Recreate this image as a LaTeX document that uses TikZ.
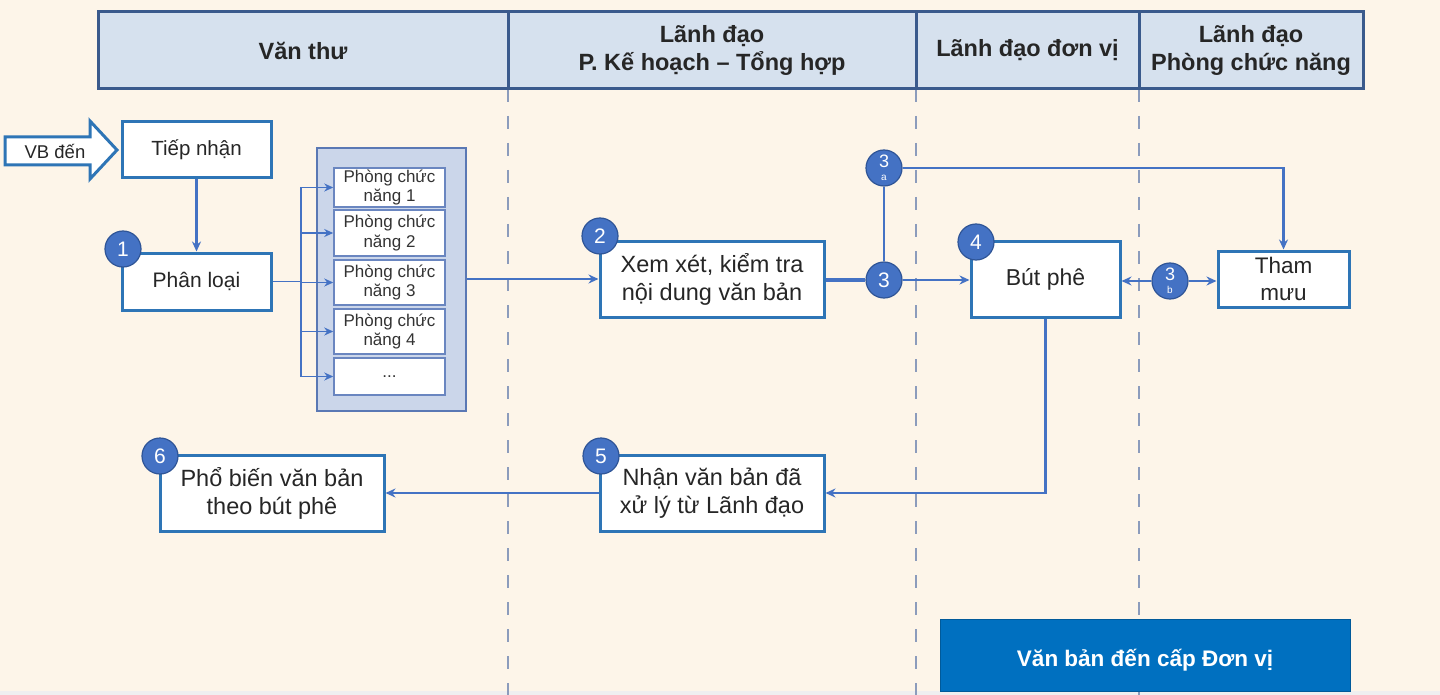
\documentclass[tikz,border=0pt]{standalone}
\usepackage{fontspec}
\setmainfont{Liberation Sans}
\usetikzlibrary{arrows.meta}
\definecolor{bgc}{HTML}{FDF5E9}
\definecolor{hdrfill}{HTML}{D6E1EE}
\definecolor{hdrline}{HTML}{3A5A8C}
\definecolor{boxline}{HTML}{2E75B6}
\definecolor{conn}{HTML}{4472C4}
\definecolor{badgec}{HTML}{4472C4}
\definecolor{badgeline}{HTML}{2F5597}
\definecolor{panelfill}{HTML}{CBD6EA}
\definecolor{panelline}{HTML}{5A78B4}
\definecolor{smallline}{HTML}{6A86C0}
\definecolor{dashc}{HTML}{8C9CBC}
\definecolor{footc}{HTML}{0070C0}
\definecolor{stripc}{HTML}{EFEFF0}
\tikzset{
  hdr/.style={draw=hdrline, line width=3pt, fill=hdrfill, inner sep=0pt, align=center,
    font=\fontsize{23.5}{28}\selectfont\bfseries, text=black!85},
  procbox/.style={draw=boxline, line width=3pt, fill=white, inner sep=0pt, align=center,
    font=\fontsize{23.5}{28}\selectfont, text=black!85},
  smallbox/.style={draw=smallline, line width=1.5pt, fill=white, inner sep=0pt, align=center,
    font=\fontsize{17}{19.5}\selectfont, text=black!80, minimum width=111pt},
  badge/.style={circle, fill=badgec, draw=badgeline, line width=1.2pt, minimum size=36pt, inner sep=0pt,
    text=white, font=\fontsize{21}{21}\selectfont, align=center},
  subbadge/.style={badge, font=\fontsize{18}{18}\selectfont},
  conline/.style={draw=conn, line width=2.4pt},
  conarrow/.style={conline, -{Stealth[length=10pt,width=9pt]}},
  lane/.style={draw=dashc, line width=1.5pt, dash pattern=on 13pt off 14pt},
}
\begin{document}
\begin{tikzpicture}[x=1pt,y=-1pt]
\useasboundingbox (0,0) rectangle (1440,695);
\fill[bgc] (0,0) rectangle (1440,695);
\fill[stripc] (0,691) rectangle (1440,695);

% lane dashed lines
\draw[lane] (508,89) -- (508,695);
\draw[lane] (916,89) -- (916,695);
\draw[lane] (1139,89) -- (1139,695);

% header
\node[hdr, minimum width=410pt, minimum height=77pt] (h1) at (303,50.5) {Văn thư};
\node[hdr, minimum width=408pt, minimum height=77pt] (h2) at (712,50.5) {Lãnh đạo\\P. Kế hoạch – Tổng hợp};
\node[hdr, minimum width=223pt, minimum height=77pt] (h3) at (1027.5,50.5) {Lãnh đạo đơn vị};
\node[hdr, minimum width=224pt, minimum height=77pt] (h4) at (1251,50.5) {Lãnh đạo\\Phòng chức năng};

% VB den arrow
\draw[boxline, line width=3pt, fill=white, line join=miter]
  (5,137) -- (90,137) -- (90,121) -- (117,150) -- (90,179) -- (90,165) -- (5,165) -- cycle;
\node[font=\fontsize{18.5}{20}\selectfont, text=black!85] (vb) at (55,151) {VB đến};

% Van thu boxes
\node[procbox, minimum width=149pt, minimum height=56pt, font=\fontsize{20.5}{24}\selectfont] (tiep) at (196.5,150) {Tiếp nhận};
\node[procbox, minimum width=149pt, minimum height=57pt, font=\fontsize{21}{24}\selectfont] (phan) at (196.5,281.5) {Phân loại};
\node[badge] (b1) at (123,249) {1};
\draw[conarrow] (tiep.south) -- (phan.north);

% panel of departments
\node[draw=panelline, line width=1.8pt, fill=panelfill, minimum width=149pt, minimum height=263pt, inner sep=0pt] (panel) at (391.5,279.5) {};
\node[smallbox, minimum height=39pt] (p1) at (389.5,187.5) {Phòng chức\\năng 1};
\node[smallbox, minimum height=46pt] (p2) at (389.5,233) {Phòng chức\\năng 2};
\node[smallbox, minimum height=45pt] (p3) at (389.5,282.5) {Phòng chức\\năng 3};
\node[smallbox, minimum height=45pt] (p4) at (389.5,331.5) {Phòng chức\\năng 4};
\node[smallbox, minimum height=37pt] (p5) at (389.5,376.5) {...};
\coordinate (br) at (301,281.5);
\draw[conn, line width=1.6pt] (phan.east) -- (br);
\draw[conn, line width=1.6pt] (301,187.5) -- (301,376.5);
\foreach \p in {p1,p2,p3,p4,p5}{
  \draw[conn, line width=1.6pt, -{Stealth[length=9pt,width=8pt]}] (301,0 |- \p.west) -- (\p.west);
}

% Xem xet
\node[procbox, minimum width=224pt, minimum height=76pt] (xem) at (712,279) {Xem xét, kiểm tra\\nội dung văn bản};
\node[badge] (b2) at (600,236) {2};
\draw[conarrow] (panel.east |- xem.west) -- (xem.west);

% badges 3
\node[badge] (b3) at (884,280) {3};
\node[subbadge] (b3a) at (884,168) {3\\[-5pt]{\fontsize{10}{10}\selectfont a}};
\node[subbadge] (b3b) at (1170,281) {3\\[-5pt]{\fontsize{10}{10}\selectfont b}};
\draw[conn, line width=4.5pt] (xem.east |- b3.west) -- (b3.west);
\draw[conline] (b3.north) -- (b3a.south);

% But phe & Tham muu
\node[procbox, minimum width=149pt, minimum height=76pt, font=\fontsize{23}{28}\selectfont] (but) at (1045.5,279) {Bút phê};
\node[badge] (b4) at (976,242) {4};
\node[procbox, minimum width=131pt, minimum height=56pt, font=\fontsize{22.5}{27}\selectfont] (tham) at (1283.5,279) {Tham\\mưu};
\draw[conarrow] (b3.east) -- (b3.east -| but.west);
\draw[conarrow] (b3a.east) -| (tham.north);
\draw[conarrow] (b3b.west) -- (b3b.west -| but.east);
\draw[conarrow] (b3b.east) -- (b3b.east -| tham.west);

% bottom row
\node[procbox, minimum width=224pt, minimum height=76pt] (nhan) at (712,493) {Nhận văn bản đã\\xử lý từ Lãnh đạo};
\node[badge] (b5) at (601,456) {5};
\node[procbox, minimum width=224pt, minimum height=76pt] (pho) at (272,493) {Phổ biến văn bản\\theo bút phê};
\node[badge] (b6) at (160,456) {6};
\draw[conarrow] (but.south) |- (nhan.east);
\draw[conarrow] (nhan.west) -- (pho.east);

% footer box
\node[fill=footc, draw=footc!80!black, line width=0.6pt, minimum width=410pt, minimum height=72pt, inner sep=0pt,
  text height=22pt, text depth=0pt,
  text=white, font=\fontsize{22.5}{26}\selectfont\bfseries] (foot) at (1145,655) {Văn bản đến cấp Đơn vị};
\end{tikzpicture}
\end{document}
